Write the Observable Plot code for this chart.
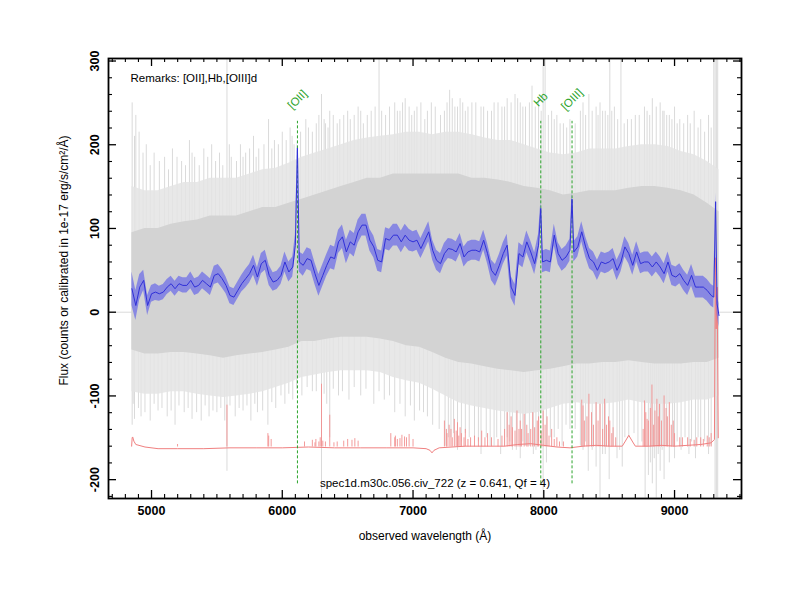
<!DOCTYPE html>
<html><head><meta charset="utf-8">
<script src="https://cdn.jsdelivr.net/npm/d3@7"></script>
<script src="https://cdn.jsdelivr.net/npm/@observablehq/plot@0.6"></script>
<style>body{margin:0;background:#fff;} #chart svg{display:block;}</style>
</head><body><div id="chart"></div>
<script>
// ---------- smoothed spectrum (blue) ----------
const blueW = [
4850,4880,4910,4940,4970,5000,5030,5060,5090,5120,
5150,5180,5210,5240,5270,5300,5330,5360,5390,5420,
5450,5480,5510,5540,5570,5600,5630,5660,5690,5720,
5750,5780,5810,5840,5870,5900,5930,5960,5990,6020,
6050,6080,6100,6116,6130,6160,6190,6220,6250,6280,
6310,6340,6370,6400,6430,6460,6490,6520,6550,6580,
6610,6640,6670,6700,6730,6760,6790,6820,6850,6880,
6910,6940,6970,7000,7030,7060,7090,7120,7150,7180,
7210,7240,7270,7300,7330,7360,7390,7420,7450,7480,
7510,7540,7570,7600,7630,7660,7690,7720,7750,7780,
7810,7840,7870,7900,7930,7960,7977,7990,8020,8050,
8080,8110,8140,8170,8200,8216,8230,8260,8290,8320,
8350,8380,8410,8440,8470,8500,8530,8560,8590,8620,
8650,8680,8710,8740,8770,8800,8830,8860,8890,8920,
8950,8980,9010,9040,9070,9100,9130,9160,9190,9220,
9250,9280,9300,9314,9325,9340];
const blueV = [
28,8,30,38,8,22,24,22,24,30,
34,28,34,32,32,38,30,32,38,34,
30,44,46,40,32,20,18,26,34,40,
46,56,42,58,62,44,36,38,44,60,
48,54,80,196,60,56,64,62,46,32,
44,56,66,64,84,90,72,84,80,96,
104,104,86,78,62,60,88,86,92,92,
84,92,86,84,86,76,86,96,74,62,
58,70,76,75,72,82,66,72,74,74,
72,86,70,50,44,56,70,80,30,20,
70,66,84,72,58,80,124,60,62,60,
92,70,62,66,74,135,72,78,96,78,
64,60,50,60,58,60,64,50,60,78,
70,56,72,58,60,60,54,60,54,46,
60,44,42,46,38,32,44,30,30,30,
26,20,18,132,10,-4];
const blueE = [
20,18,15,12,12,10,10,9,9,9,
9,9,9,9,9,10,10,10,10,10,
10,11,11,11,10,10,10,10,10,11,
11,12,11,12,12,12,11,11,11,12,
12,12,12,8,12,13,13,13,13,13,
13,13,14,14,14,14,14,14,14,14,
13,13,13,13,13,13,13,13,13,13,
13,13,13,12,12,12,12,12,12,12,
12,12,12,12,12,12,12,12,12,12,
12,12,12,12,13,13,13,13,13,13,
13,13,13,13,13,13,8,13,13,13,
13,13,13,13,13,8,12,12,12,12,
12,12,12,12,12,12,12,12,12,12,
12,12,12,12,12,12,12,12,12,12,
12,12,12,12,12,12,13,13,13,13,
13,13,13,10,12,14];

// ---------- raw spectrum envelope (gray) ----------
const grayW = [4850,4950,5050,5150,5250,5350,5450,5550,5650,5750,
5850,5950,6050,6150,6250,6350,6450,6550,6650,6750,
6850,6950,7050,7150,7250,7350,7450,7550,7650,7750,
7850,7950,8050,8150,8250,8350,8450,8550,8650,8750,
8850,8950,9050,9150,9250,9340];
const innerHi = [95,100,100,105,108,110,115,115,115,120,
125,125,130,135,140,145,150,155,160,160,
165,165,165,165,165,165,160,160,158,155,
150,148,145,140,142,145,145,145,148,150,
150,148,145,140,130,120];
const outerHi = [150,145,145,150,155,155,160,160,160,165,
170,172,178,185,190,195,200,205,208,210,
212,215,215,212,215,215,212,208,205,205,
200,195,190,188,190,195,195,195,198,200,
200,198,192,188,180,170];
const innerLo = [-45,-50,-50,-48,-48,-50,-52,-55,-52,-50,
-48,-45,-42,-35,-35,-32,-30,-30,-30,-32,
-35,-40,-42,-48,-55,-60,-62,-65,-68,-70,
-72,-70,-68,-65,-62,-62,-60,-60,-58,-60,
-62,-62,-62,-60,-60,-55];
const outerLo = [-95,-98,-98,-95,-95,-98,-100,-102,-100,-98,
-95,-90,-85,-78,-75,-72,-70,-70,-70,-72,
-78,-82,-85,-92,-100,-108,-112,-115,-118,-120,
-122,-120,-115,-110,-108,-110,-110,-108,-105,-108,
-110,-110,-108,-105,-105,-100];

// ---------- noise spikes of raw spectrum ----------
const upW = [4852,4880,4905,4960,5020,5100,5160,5230,5290,5330,
5400,5460,5520,5577,5610,5680,5720,5780,5820,5895,
5940,6000,6060,6090,6180,6230,6300,6330,6363,6420,
6470,6520,6580,6620,6680,6740,6790,6860,6900,6940,
6990,7030,7090,7140,7240,7280,7320,7360,7400,7450,
7520,7570,7620,7680,7720,7780,7820,7860,7910,7960,
7995,8010,8060,8100,8150,8200,8280,8300,8345,8400,
8430,8470,8505,8540,8590,8640,8700,8770,8830,8890,
8920,8960,9000,9040,9100,9150,9200,9260,9300,9310,
9320,9330];
const upV = [250,235,215,200,190,185,195,180,205,185,
195,200,190,303,185,200,190,210,195,230,
205,215,220,200,230,215,260,225,240,225,
235,230,245,225,240,303,235,250,240,255,
235,245,230,250,240,265,245,255,240,250,
245,240,250,245,255,260,250,245,270,255,
303,303,240,235,225,230,240,250,260,245,
250,240,303,245,303,230,235,245,255,250,
240,235,245,230,235,240,230,235,303,303,
303,303];
const upExtra = [[4870,210],[4935,190],[4990,175],[5060,180],[5130,170],[5195,185],[5260,175],[5310,190],[5365,175],[5430,185],
[5490,180],[5545,175],[5595,200],[5650,180],[5700,185],[5750,195],[5800,185],[5860,200],[5920,195],[5970,200],
[6030,205],[6075,210],[6140,215],[6200,220],[6260,225],[6280,235],[6320,230],[6350,220],[6390,235],[6440,230],
[6500,240],[6550,235],[6600,240],[6650,235],[6710,245],[6760,240],[6820,245],[6880,240],[6920,250],[6970,245],
[7010,240],[7060,250],[7110,240],[7170,245],[7210,235],[7260,250],[7300,255],[7340,245],[7380,250],[7420,245],
[7480,250],[7540,245],[7600,240],[7650,250],[7700,245],[7750,250],[7800,255],[7840,245],[7890,250],[7935,245],
[7980,240],[8035,235],[8080,230],[8125,225],[8175,220],[8240,225],[8320,235],[8370,240],[8415,235],[8450,240],
[8490,235],[8520,240],[8565,230],[8615,225],[8670,230],[8730,235],[8790,240],[8810,235],[8860,245],[8910,240],
[8940,235],[8980,230],[9020,225],[9070,225],[9120,225],[9180,220],[9230,215],[9280,220]];
const dnW = [4852,4870,4920,4990,5050,5120,5180,5250,5310,5380,
5440,5500,5560,5577,5640,5700,5760,5810,5890,5950,
6020,6080,6150,6230,6300,6340,6363,6430,6510,6600,
6700,6780,6860,6940,7010,7080,7150,7245,7290,7340,
7400,7470,7520,7560,7620,7670,7720,7760,7820,7860,
7920,7960,7995,8020,8080,8140,8200,8280,8300,8340,
8400,8430,8470,8500,8560,8600,8650,8720,8775,8800,
8830,8860,8890,8920,8960,9000,9050,9110,9160,9200,
9260,9310,9320,9330];
const dnV = [-135,-128,-125,-130,-118,-125,-135,-120,-128,-130,
-125,-120,-130,-190,-125,-118,-130,-120,-135,-115,
-110,-105,-100,-95,-222,-110,-150,-100,-105,-100,
-110,-105,-120,-125,-130,-120,-135,-160,-150,-165,
-145,-150,-170,-150,-160,-170,-150,-165,-175,-160,
-170,-155,-222,-180,-150,-160,-140,-160,-165,-190,
-185,-222,-170,-200,-175,-185,-150,-160,-222,-195,
-205,-222,-190,-200,-180,-175,-165,-170,-175,-160,
-170,-222,-222,-222];
const dnExtra = [[4860,-110],[4900,-115],[4950,-120],[5020,-110],[5080,-115],[5150,-118],[5210,-112],[5280,-115],[5345,-120],[5410,-112],
[5470,-118],[5530,-115],[5600,-112],[5670,-115],[5730,-112],[5790,-110],[5850,-118],[5920,-108],[5990,-100],[6050,-98],
[6110,-92],[6190,-90],[6260,-95],[6320,-98],[6390,-92],[6460,-95],[6550,-90],[6640,-92],[6740,-95],[6820,-100],
[6900,-110],[6980,-112],[7050,-118],[7110,-125],[7200,-140],[7270,-150],[7310,-145],[7370,-155],[7430,-150],[7500,-155],
[7590,-160],[7640,-150],[7700,-160],[7740,-155],[7790,-165],[7840,-155],[7890,-160],[7940,-165],[8050,-150],[8110,-140],
[8170,-135],[8240,-140],[8320,-155],[8370,-165],[8450,-170],[8530,-160],[8580,-165],[8620,-150],[8690,-145],[8750,-155],
[8815,-180],[8845,-175],[8875,-170],[8905,-165],[8940,-160],[8985,-160],[9020,-155],[9080,-150],[9130,-155],[9180,-150],
[9230,-155],[9280,-160]];

// ---------- sky spectrum (red) ----------
const skyBaseW = [4848,4852,4856,4865,4880,4950,5050,5200,5400,5600,5800,6000,6200,6400,6600,6800,7000,7100,7130,7145,7160,7200,7400,7600,7700,7800,7900,8000,8100,8200,8300,8400,8500,8600,8620,8650,8680,8700,8800,8900,9000,9100,9200,9280,9305,9312,9318,9326,9334];
const skyBaseV = [-160,-150,-149,-154,-158,-161,-163,-163,-163,-162,-162,-162,-161,-162,-162,-162,-162,-163,-165,-168,-165,-162,-160,-160,-160,-158,-157,-159,-161,-162,-160,-159,-160,-160,-155,-147,-155,-160,-160,-159,-160,-159,-158,-156,-152,65,-20,30,-150];
const skyFloor = -161;
const skyLineW = [5199,5577,5890,5896,5915,6170,6230,6257,6290,6300,
6330,6363,6470,6500,6533,6555,6580,6830,6865,6915,
6950,6970,7000,7240,7255,7276,7290,7316,7330,7340,
7360,7370,7400,7470,7525,7570,7600,7720,7735,7750,
7795,7810,7820,7850,7870,7915,7950,7960,7995,8025,
8060,8100,8150,8290,8300,8345,8365,8400,8430,8465,
8495,8505,8530,8550,8770,8790,8827,8850,8865,8885,
8920,8945,8960,8990,9040,9100,9150,9200,9250,9280];
const skyLineV = [-158,-111,-145,-148,-152,-155,-153,-152,-150,-86,
-155,-123,-154,-152,-153,-151,-154,-145,-148,-147,
-150,-146,-152,-130,-140,-135,-140,-128,-142,-132,
-138,-145,-140,-148,-142,-145,-150,-120,-135,-125,
-118,-140,-130,-122,-135,-120,-130,-125,-118,-125,
-140,-150,-155,-105,-112,-98,-120,-108,-110,-104,
-125,-130,-138,-150,-106,-128,-87,-118,-104,-110,
-100,-125,-108,-130,-150,-150,-153,-150,-148,-145];
const skyExtra = [[6250,-156],[6280,-155],[6310,-154],[6395,-156],[6420,-155],[6860,-150],[6880,-152],[6900,-151],[6935,-149],[7260,-145],
[7300,-150],[7350,-148],[7390,-150],[7420,-152],[7440,-150],[7500,-150],[7550,-150],[7650,-152],[7680,-148],[7700,-140],
[7760,-138],[7780,-142],[7830,-140],[7880,-145],[7900,-140],[7930,-138],[7980,-142],[8010,-135],[8040,-148],[8080,-152],
[8120,-155],[8310,-130],[8330,-125],[8380,-135],[8415,-130],[8450,-140],[8480,-135],[8520,-145],[8760,-140],[8780,-120],
[8800,-130],[8815,-115],[8840,-135],[8875,-125],[8900,-130],[8935,-115],[8975,-135],[9000,-145],[9060,-150],[9120,-152],
[9170,-150],[9220,-152],[9265,-150]];

// ---------- emission line identifications ----------
const lineNames = ["[OII]", "Hb", "[OIII]"];
const lineWaves = [6116, 7977, 8216];

// ---------- axes / texts ----------
const xMajor = [5000, 6000, 7000, 8000, 9000];
const yMajor = [-200, -100, 0, 100, 200, 300];
const remarks = "Remarks: [OII],Hb,[OIII]d";
const specTitle = "spec1d.m30c.056.civ_722 (z = 0.641, Qf = 4)";
const xLabel = "observed wavelength (Å)";
const yLabel = "Flux (counts or calibrated in 1e-17 erg/s/cm²/Å)";

// ---------- build tables ----------
const blue = blueW.map((w, i) => ({w, v: blueV[i], e: blueE[i]}));
const gray = grayW.map((w, i) => ({w, iLo: innerLo[i], iHi: innerHi[i], oLo: outerLo[i], oHi: outerHi[i]}));
const ups = upW.map((w, i) => ({w, v: upV[i]})).concat(upExtra.map(([w, v]) => ({w, v})));
const dns = dnW.map((w, i) => ({w, v: dnV[i]})).concat(dnExtra.map(([w, v]) => ({w, v})));
const skyBase = skyBaseW.map((w, i) => ({w, v: skyBaseV[i]}));
const skyLines = skyLineW.map((w, i) => ({w, v: skyLineV[i]})).concat(skyExtra.map(([w, v]) => ({w, v})));
const emLines = lineWaves.map((w, i) => ({w, name: lineNames[i]}));

const W = 800, H = 600, mL = 108, mR = 59, mT = 58, mB = 102;
const iw = W - mL - mR, ih = H - mT - mB;
const xDom = [4671, 9512], yDom = [-222.5, 303];
const xMinor = d3.range(4700, 9600, 100).filter(d => d % 1000 !== 0 && d > xDom[0] && d < xDom[1]);
const yMinor = d3.range(-220, 301, 20).filter(d => d % 100 !== 0);
const green = "#2ca42c";
const FONT = "'Liberation Sans', Arial, Helvetica, sans-serif";

const plot = Plot.plot({
  width: W, height: H,
  marginLeft: mL, marginRight: mR, marginTop: mT, marginBottom: mB,
  x: {domain: xDom, axis: null},
  y: {domain: yDom, axis: null},
  style: {fontFamily: FONT, fontSize: "12px", background: "white", color: "black"},
  marks: [
    Plot.ruleY([0], {stroke: "#dadada", strokeWidth: 1}),
    Plot.ruleX(ups, {x: "w", y1: 30, y2: "v", stroke: "#dadada", strokeWidth: 1}),
    Plot.ruleX(dns, {x: "w", y1: 30, y2: "v", stroke: "#dadada", strokeWidth: 1}),
    Plot.areaY(gray, {x: "w", y1: "oLo", y2: "oHi", fill: "#e4e4e4", fillOpacity: 0.85}),
    Plot.areaY(gray, {x: "w", y1: "iLo", y2: "iHi", fill: "#d3d3d3"}),
    Plot.ruleX(skyLines, {x: "w", y1: skyFloor, y2: "v", stroke: "#f29090", strokeWidth: 0.9}),
    Plot.line(skyBase, {x: "w", y: "v", stroke: "#f08080", strokeWidth: 1}),
    Plot.ruleX(emLines, {x: "w", y1: -205, y2: 228, stroke: green, strokeDasharray: "3,2", strokeWidth: 1}),
    Plot.text(emLines, {x: "w", y: 254, text: "name", rotate: -45, fill: green, fontSize: 11.5}),
    Plot.areaY(blue, {x: "w", y1: d => d.v - d.e, y2: d => d.v + d.e, fill: "#6b6be8", fillOpacity: 0.72}),
    Plot.line(blue, {x: "w", y: "v", stroke: "#3030d8", strokeWidth: 1}),
    // ticks (inward, all four sides)
    Plot.ruleX(xMajor, {x: d => d, insetTop: ih - 8, stroke: "black", strokeWidth: 1.3}),
    Plot.ruleX(xMajor, {x: d => d, insetBottom: ih - 8, stroke: "black", strokeWidth: 1.3}),
    Plot.ruleX(xMinor, {x: d => d, insetTop: ih - 4, stroke: "black", strokeWidth: 1.1}),
    Plot.ruleX(xMinor, {x: d => d, insetBottom: ih - 4, stroke: "black", strokeWidth: 1.1}),
    Plot.ruleY(yMajor, {y: d => d, insetRight: iw - 8, stroke: "black", strokeWidth: 1.3}),
    Plot.ruleY(yMajor, {y: d => d, insetLeft: iw - 8, stroke: "black", strokeWidth: 1.3}),
    Plot.ruleY(yMinor, {y: d => d, insetRight: iw - 4, stroke: "black", strokeWidth: 1.1}),
    Plot.ruleY(yMinor, {y: d => d, insetLeft: iw - 4, stroke: "black", strokeWidth: 1.1}),
    Plot.frame({stroke: "black", strokeWidth: 1.8}),
    // tick labels
    Plot.text(xMajor, {x: d => d, text: d => String(d), frameAnchor: "bottom", dy: 16, textAnchor: "middle", fontWeight: "bold", fontSize: 12.5, fill: "black"}),
    Plot.text(yMajor, {y: d => d, text: d => String(d), frameAnchor: "left", dx: -14, rotate: -90, textAnchor: "middle", fontWeight: "bold", fontSize: 12.5, fill: "black"}),
    // titles
    Plot.text([xLabel], {text: d => d, frameAnchor: "bottom", dy: 41, textAnchor: "middle", fontSize: 12, fill: "black"}),
    Plot.text([yLabel], {text: d => d, frameAnchor: "left", dx: -44, dy: -18, rotate: -90, textAnchor: "middle", fontSize: 12, fill: "black"}),
    Plot.text([remarks], {text: d => d, frameAnchor: "top-left", dx: 22, dy: 15, textAnchor: "start", fontSize: 11.5, fill: "black"}),
    Plot.text([specTitle], {text: d => d, frameAnchor: "bottom", dx: 10, dy: -12, textAnchor: "middle", fontSize: 11.5, fill: "black"})
  ]
});
document.getElementById("chart").appendChild(plot);
</script>
</body></html>
